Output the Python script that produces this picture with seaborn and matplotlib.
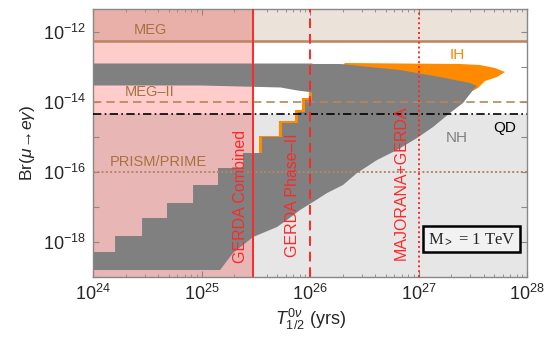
import numpy as np
import pandas as pd
import matplotlib
matplotlib.use("Agg")
import matplotlib.pyplot as plt
import seaborn as sns

# axis ranges (log10)
x_range = [24.0, 28.0]
y_range = [-19.0, -11.343]

# experimental limits
meg = 5.7e-13
meg2 = 1.0e-14
qd = 4.6e-15
prism = 1.0e-16
gerda_comb = 3.0e25
gerda_ph2 = 1.0e26
majorana_gerda = 1.0e27

# NH (grey) scatter region, log10 values
band_x = [23.95, 24.986, 25.724, 25.880, 26.018]
band_top = [-12.886, -12.886, -12.886, -12.886, -12.886]
band_bot = [-13.514, -13.514, -13.571, -13.657, -13.714]

nh_x = [23.95, 24.203, 24.203, 24.452, 24.452, 24.682, 24.682, 24.922, 24.922,
        25.152, 25.152, 25.382, 25.382, 25.558, 25.558, 25.742, 25.742, 25.889,
        25.889, 25.954, 25.954, 26.018, 26.018, 26.276, 26.829, 27.198, 27.475,
        27.539, 27.502, 27.410, 27.290, 27.134, 26.986, 26.802, 26.618, 26.433,
        26.304, 26.157, 26.028, 25.908, 25.788, 25.696, 25.475, 25.290, 25.171,
        23.95]
nh_y = [-18.286, -18.286, -17.829, -17.829, -17.314, -17.314, -16.886, -16.886, -16.371,
        -16.371, -15.886, -15.886, -15.457, -15.457, -15.000, -15.000, -14.600, -14.600,
        -14.286, -14.286, -13.943, -13.943, -12.914, -12.914, -13.086, -13.286, -13.457,
        -13.543, -13.657, -14.029, -14.314, -14.714, -15.029, -15.371, -15.657, -16.029,
        -16.371, -16.600, -16.857, -17.086, -17.371, -17.571, -17.857, -18.314, -18.800,
        -18.800]

# IH (orange) region
ih_x = [25.530, 25.530, 25.714, 25.714, 25.862, 25.862, 25.926, 25.926, 25.991, 25.991,
        26.323, 26.829, 27.382, 27.567, 27.705, 27.797, 27.724, 27.613, 27.548, 27.429,
        26.829, 25.908, 25.530]
ih_y = [-15.657, -14.971, -14.971, -14.543, -14.543, -14.229, -14.229, -13.886, -13.886, -13.657,
        -12.886, -12.900, -12.914, -12.943, -13.029, -13.143, -13.286, -13.400, -13.600, -13.800,
        -14.514, -15.657, -15.657]

sns.set_style("ticks")
plt.rcParams['font.family'] = ['Liberation Sans', 'DejaVu Sans']
plt.rcParams['mathtext.fontset'] = 'custom'
plt.rcParams['mathtext.rm'] = 'Liberation Sans'
plt.rcParams['mathtext.it'] = 'Liberation Sans:italic'

fig = plt.figure(figsize=(5.59, 3.37), dpi=100)
ax = fig.add_axes([0.1664, 0.178, 0.7764, 0.7953])
ax.set_xscale('log')
ax.set_yscale('log')
xmin, xmax = 10 ** x_range[0], 10 ** x_range[1]
ymin, ymax = 10 ** y_range[0], 10 ** y_range[1]
ax.set_xlim(xmin, xmax)
ax.set_ylim(ymin, ymax)

# background bands
ax.fill_between([gerda_comb, xmax], meg, ymax, color='#EBE2D9', lw=0, zorder=0)
ax.fill_between([gerda_comb, xmax], ymin, qd, color='#E6E6E6', lw=0, zorder=0)
ax.fill_between([xmin, gerda_comb], meg, ymax, color='#E9B0AA', lw=0, zorder=0)
ax.fill_between([xmin, gerda_comb], qd, meg, color='#FFCCCC', lw=0, zorder=0)
ax.fill_between([xmin, gerda_comb], ymin, qd, color='#E8B6B5', lw=0, zorder=0)

# scan regions
ax.fill(10 ** np.array(ih_x), 10 ** np.array(ih_y), color='#FF8A00', lw=0, zorder=1)
ax.fill(10 ** np.array(nh_x), 10 ** np.array(nh_y), color='#808080', lw=0, zorder=2)
ax.fill_between(10 ** np.array(band_x), 10 ** np.array(band_bot), 10 ** np.array(band_top),
                color='#808080', lw=0, zorder=2)

# limits
brown = '#B98460'
ax.axhline(meg, color=brown, lw=1.8, zorder=3)
ax.axhline(meg2, color=brown, lw=1.2, ls=(0, (5, 3)), zorder=3)
ax.axhline(qd, color='black', lw=1.2, ls=(0, (5, 2, 1, 2)), zorder=3)
ax.axhline(prism, color=brown, lw=1.4, ls=(0, (1, 1.2)), zorder=3)
red = '#FF2828'
ax.axvline(gerda_comb, color=red, lw=1.4, zorder=3)
ax.axvline(gerda_ph2, color=red, lw=1.4, ls=(0, (5, 3)), zorder=3)
ax.axvline(majorana_gerda, color=red, lw=1.4, ls=(0, (1, 1.5)), zorder=3)

# labels
tc = '#A8713F'
ax.text(10 ** 24.525, 10 ** -11.94, 'MEG', color=tc, fontsize=10.5, ha='center', va='center', zorder=4)
ax.text(10 ** 24.525, 10 ** -13.71, 'MEG–II', color=tc, fontsize=10.5, ha='center', va='center', zorder=4)
ax.text(10 ** 24.6, 10 ** -15.71, 'PRISM/PRIME', color=tc, fontsize=10.5, ha='center', va='center', zorder=4)
ax.text(10 ** 27.355, 10 ** -12.66, 'IH', color='#FF8A00', fontsize=11, ha='center', va='center', zorder=4)
ax.text(10 ** 27.355, 10 ** -15.03, 'NH', color='#808080', fontsize=11, ha='center', va='center', zorder=4)
ax.text(10 ** 27.79, 10 ** -14.74, 'QD', color='black', fontsize=11, ha='center', va='center', zorder=4)
ax.text(10 ** 25.355, 10 ** -16.71, 'GERDA Combined', color=red, fontsize=11.5, rotation=90,
        ha='center', va='center', zorder=4)
ax.text(10 ** 25.843, 10 ** -16.66, 'GERDA Phase–II', color=red, fontsize=11.5, rotation=90,
        ha='center', va='center', zorder=4)
ax.text(10 ** 26.843, 10 ** -16.31, 'MAJORANA+GERDA', color=red, fontsize=11.5, rotation=90,
        ha='center', va='center', zorder=4)
ax.text(10 ** 27.489, 10 ** -17.914, r'M$_{>}$ = 1 TeV', family=['Liberation Serif', 'DejaVu Serif'],
        fontsize=12, ha='center', va='center', zorder=5,
        bbox=dict(boxstyle='square,pad=0.3', fc='#F2F2F2', ec='black', lw=1.8))

# ticks
xt = [24, 25, 26, 27, 28]
ax.set_xticks([10.0 ** e for e in xt])
ax.set_xticklabels([r'$10^{%d}$' % e for e in xt], fontsize=13)
ax.xaxis.set_minor_locator(matplotlib.ticker.LogLocator(base=10, subs=np.arange(2, 10), numticks=20))
ax.xaxis.set_minor_formatter(matplotlib.ticker.NullFormatter())
yt = [-19, -18, -17, -16, -15, -14, -13, -12]
ax.set_yticks([10.0 ** e for e in yt])
ax.set_yticklabels([r'$10^{%d}$' % e if e % 2 == 0 else '' for e in yt], fontsize=13)
ax.yaxis.set_minor_locator(matplotlib.ticker.NullLocator())
ax.tick_params(which='both', direction='in', top=True, right=True, color='#888888')
ax.tick_params(which='major', length=4, pad=5)
ax.tick_params(which='minor', length=2)
for s in ax.spines.values():
    s.set_color('#888888')
    s.set_linewidth(1.0)

ax.set_xlabel(r'$T^{0\nu}_{1/2}$ (yrs)', fontsize=13, labelpad=2)
ax.set_ylabel(r'Br($\mu\!\to\!e\gamma$)', fontsize=12.5, labelpad=4)

fig.savefig('out.png', dpi=100)
